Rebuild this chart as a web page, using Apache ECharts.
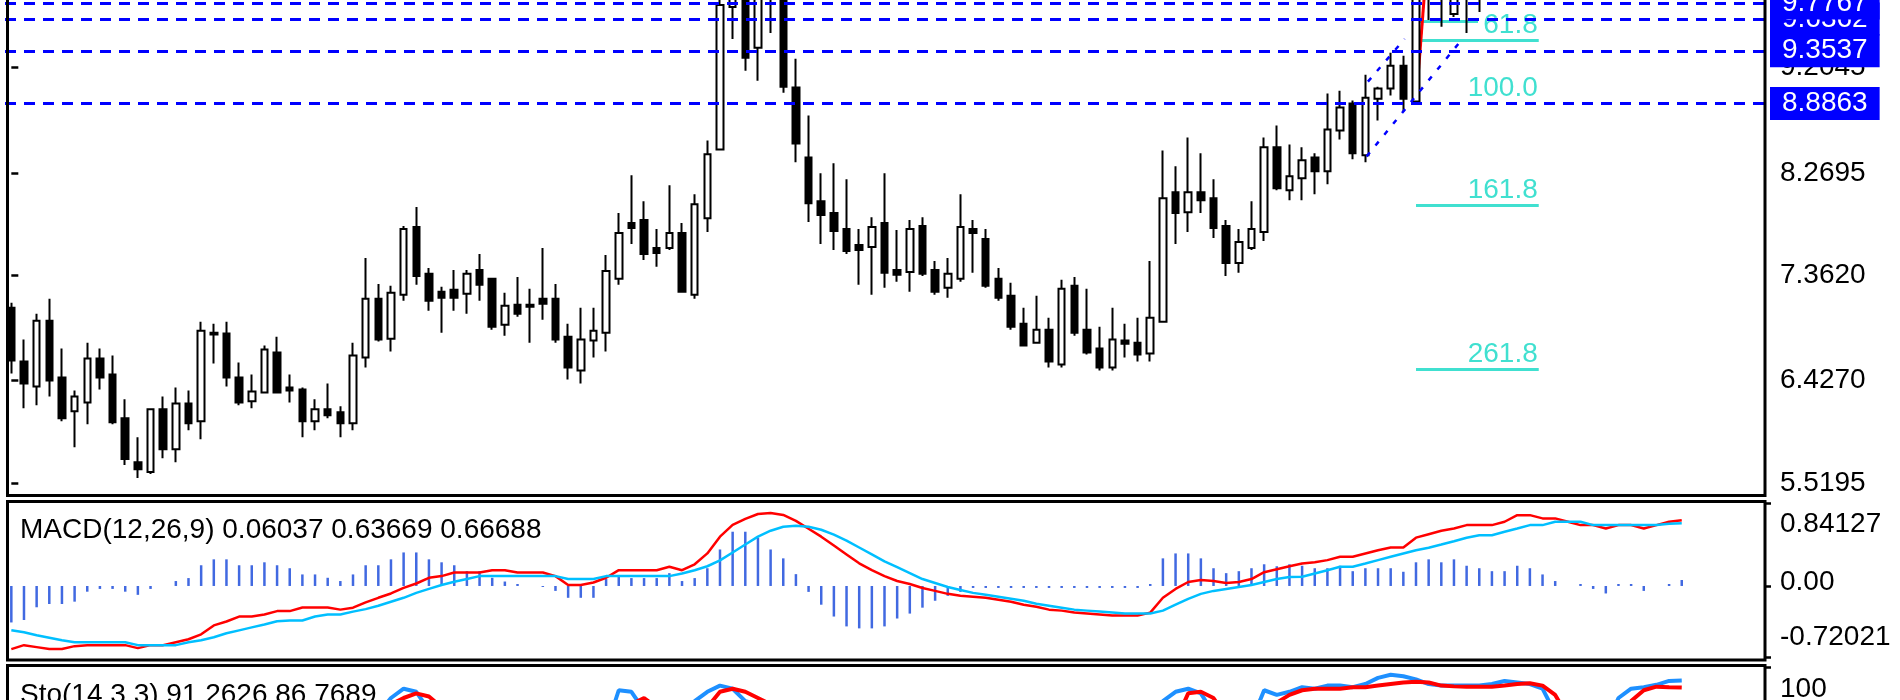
<!DOCTYPE html>
<html>
<head>
<meta charset="utf-8">
<script src="https://cdn.jsdelivr.net/npm/echarts@6/dist/echarts.min.js"></script>
<style>
html,body{margin:0;padding:0;background:#fff;overflow:hidden;width:1900px;height:700px}
#c{width:1900px;height:830px}
</style>
</head>
<body>
<div id="c"></div>
<script>
// ---------------- DATA ----------------
const open = [7.075,6.597,6.376,6.960,6.456,6.156,6.235,6.624,6.482,6.094,
5.705,5.617,6.173,5.820,6.226,6.067,6.853,6.845,6.456,6.244,
6.323,6.677,6.368,6.350,6.067,6.173,6.147,6.050,6.633,7.154,
6.800,7.189,7.790,7.375,7.216,7.233,7.198,7.410,7.331,6.924,
7.101,7.101,7.154,7.154,6.818,6.518,6.783,6.853,7.331,7.825,
7.852,7.604,7.604,7.737,7.189,7.869,8.479,9.742,9.950,9.380,
9.950,9.900,9.027,8.408,8.020,7.914,7.772,7.631,7.613,7.825,
7.410,7.392,7.799,7.410,7.251,7.331,7.772,7.684,7.331,7.180,
6.933,6.765,6.880,6.571,7.269,6.880,6.712,6.544,6.783,6.765,
6.668,6.951,8.099,7.922,8.099,8.046,7.799,7.472,7.604,7.746,
8.497,8.117,8.223,8.408,8.285,8.647,8.885,8.426,8.929,9.018,
9.221,8.903,10.150,9.950,9.680,9.950,9.880];
const close = [6.606,6.403,6.960,6.429,6.094,6.288,6.624,6.456,6.058,5.732,
5.643,6.173,5.820,6.226,6.050,6.871,6.836,6.456,6.235,6.332,
6.703,6.323,6.341,6.067,6.173,6.120,6.050,6.650,7.154,6.792,
7.207,7.772,7.357,7.136,7.163,7.163,7.375,7.278,6.906,7.092,
7.021,7.083,7.110,6.792,6.544,6.792,6.871,7.401,7.737,7.781,
7.551,7.560,7.737,7.216,7.993,8.435,9.760,9.900,9.292,9.920,
9.900,9.035,8.532,8.002,7.896,7.755,7.578,7.587,7.790,7.384,
7.366,7.772,7.375,7.216,7.375,7.790,7.737,7.269,7.163,6.906,
6.739,6.880,6.597,7.242,6.853,6.677,6.544,6.792,6.756,6.659,
6.986,8.046,7.914,8.099,8.028,7.781,7.472,7.657,7.772,8.497,
8.134,8.240,8.382,8.285,8.656,8.850,8.444,8.938,9.018,9.221,
8.929,10.150,9.950,9.900,9.950,9.880,10.050];
const low = [6.491,6.182,6.209,6.288,6.067,5.838,6.041,6.350,6.041,5.679,
5.564,5.599,5.740,5.705,5.988,5.908,6.580,6.376,6.209,6.182,
6.315,6.315,6.235,5.926,5.988,6.094,5.926,5.988,6.544,6.774,
6.686,7.136,7.278,7.048,6.853,7.048,7.021,7.136,6.880,6.827,
6.995,6.765,6.968,6.765,6.438,6.403,6.633,6.686,7.278,7.640,
7.498,7.437,7.587,7.210,7.154,7.746,8.470,9.459,9.177,9.088,
9.512,8.982,8.364,7.834,7.640,7.587,7.551,7.278,7.189,7.251,
7.304,7.216,7.357,7.189,7.163,7.304,7.384,7.251,7.136,6.880,
6.735,6.760,6.544,6.544,6.827,6.659,6.518,6.518,6.633,6.597,
6.597,6.942,7.640,7.746,7.914,7.693,7.357,7.384,7.587,7.666,
8.117,8.028,8.028,8.081,8.170,8.567,8.391,8.364,8.735,8.956,
8.815,8.886,9.627,9.566,9.653,9.512,9.698];
const high = [7.119,6.792,7.021,7.154,6.712,6.341,6.765,6.712,6.650,6.262,
5.926,6.180,6.288,6.368,6.341,6.951,6.933,6.951,6.588,6.482,
6.739,6.818,6.482,6.368,6.262,6.403,6.200,6.765,7.516,7.286,
7.269,7.799,7.967,7.428,7.260,7.410,7.410,7.551,7.340,7.207,
7.348,7.242,7.604,7.286,6.933,7.074,7.074,7.543,7.914,8.249,
8.020,7.772,8.161,7.825,8.081,8.558,9.900,9.980,10.020,10.000,
10.060,9.950,9.283,8.779,8.267,8.355,8.214,7.772,7.878,8.267,
7.763,7.852,7.878,7.490,7.516,8.081,7.852,7.772,7.428,7.295,
7.074,7.180,6.986,7.322,7.348,7.242,6.906,7.074,6.933,6.986,
7.490,8.470,8.329,8.585,8.444,8.214,7.852,7.772,8.020,8.585,
8.691,8.523,8.497,8.444,8.974,9.000,8.912,9.141,9.035,9.336,
9.309,10.200,10.344,10.050,10.000,10.050,10.150];

const macdHist = [-0.37,-0.345,-0.216,-0.183,-0.183,-0.159,-0.058,-0.03,-0.03,-0.058,
-0.09,-0.03,0,0.05,0.08,0.21,0.27,0.27,0.21,0.21,
0.24,0.21,0.18,0.117,0.117,0.083,0.05,0.117,0.21,0.21,
0.27,0.34,0.34,0.27,0.24,0.21,0.15,0.15,0.083,0.045,
0.02,0,-0.01,-0.05,-0.12,-0.12,-0.12,0.07,0.1,0.08,
0.08,0.08,0.13,0.05,0.08,0.18,0.37,0.55,0.55,0.49,
0.37,0.28,0.12,-0.06,-0.19,-0.31,-0.41,-0.43,-0.43,-0.41,
-0.33,-0.28,-0.22,-0.15,-0.10,-0.06,-0.02,-0.02,-0.02,-0.02,
-0.02,-0.02,-0.02,-0.02,-0.02,-0.02,-0.02,-0.02,-0.02,-0.02,
0.02,0.28,0.33,0.33,0.28,0.18,0.13,0.15,0.18,0.22,
0.20,0.22,0.205,0.18,0.18,0.205,0.15,0.18,0.18,0.18,
0.144,0.24,0.27,0.24,0.27,0.205,0.18,0.15,0.15,0.205,
0.18,0.117,0.05,0,0.02,-0.03,-0.076,0.02,0.02,-0.05,
0,0.02,0.06037];
const macdLine = [-0.64,-0.60,-0.62,-0.64,-0.64,-0.61,-0.60,-0.60,-0.60,-0.60,
-0.63,-0.60,-0.60,-0.57,-0.54,-0.49,-0.40,-0.36,-0.31,-0.31,
-0.29,-0.255,-0.255,-0.218,-0.218,-0.218,-0.24,-0.22,-0.167,-0.12,
-0.076,-0.02,0.025,0.083,0.10,0.137,0.137,0.137,0.16,0.16,
0.137,0.137,0.137,0.10,0.01,0.01,0.035,0.083,0.16,0.16,
0.16,0.16,0.195,0.16,0.22,0.33,0.50,0.62,0.68,0.73,
0.74,0.72,0.66,0.58,0.50,0.41,0.32,0.23,0.16,0.10,
0.05,0.02,-0.02,-0.05,-0.08,-0.10,-0.11,-0.12,-0.14,-0.16,
-0.19,-0.21,-0.24,-0.25,-0.27,-0.28,-0.29,-0.30,-0.30,-0.30,
-0.27,-0.12,-0.03,0.04,0.06,0.05,0.03,0.04,0.07,0.14,
0.17,0.20,0.228,0.24,0.262,0.296,0.296,0.33,0.363,0.39,
0.39,0.49,0.525,0.56,0.583,0.617,0.617,0.617,0.651,0.718,
0.718,0.685,0.685,0.651,0.617,0.617,0.583,0.617,0.617,0.583,
0.617,0.651,0.66688];
const macdSignal = [-0.45,-0.47,-0.50,-0.525,-0.55,-0.57,-0.57,-0.57,-0.57,-0.57,
-0.60,-0.60,-0.60,-0.60,-0.57,-0.55,-0.52,-0.48,-0.45,-0.42,
-0.39,-0.357,-0.35,-0.35,-0.31,-0.29,-0.29,-0.26,-0.235,-0.20,
-0.16,-0.12,-0.07,-0.03,0.01,0.043,0.07,0.10,0.10,0.10,
0.10,0.10,0.10,0.10,0.07,0.07,0.07,0.10,0.10,0.10,
0.10,0.10,0.10,0.127,0.16,0.20,0.26,0.34,0.42,0.50,
0.56,0.60,0.61,0.60,0.57,0.52,0.46,0.39,0.32,0.25,
0.19,0.13,0.07,0.03,-0.01,-0.04,-0.07,-0.09,-0.11,-0.13,
-0.15,-0.18,-0.20,-0.22,-0.24,-0.25,-0.26,-0.27,-0.28,-0.28,
-0.28,-0.25,-0.19,-0.13,-0.08,-0.05,-0.03,-0.01,0.01,0.04,
0.07,0.09,0.093,0.127,0.16,0.195,0.195,0.228,0.262,0.296,
0.33,0.363,0.387,0.42,0.454,0.489,0.515,0.515,0.55,0.583,
0.617,0.617,0.651,0.651,0.651,0.617,0.617,0.617,0.617,0.617,
0.617,0.63,0.63669];

const stochMain = [30,20,35,30,15,20,35,35,25,10,
5,20,15,25,25,55,60,50,40,40,
55,45,40,30,35,40,30,60,78,70,
80,86,84,72,65,65,70,62,40,45,
40,40,40,25,10,20,30,60,85,84,
72,65,75,55,78,84,88,86,78,76,
74,60,40,25,18,15,12,10,15,15,
12,20,15,10,15,30,30,20,15,10,
5,10,5,30,25,15,10,20,20,15,
30,78,84,86,83,70,50,55,65,85,
82,84,87,86,88,88,87,89,93,95,
94,92,89,88,88,88,88,89,91,90,
89,86,70,50,40,45,62,80,86,87,
88.5,91,91.2626];
const stochSignal = [35,28,28,28,27,22,23,30,32,23,
13,12,13,20,22,35,47,55,50,43,
45,47,47,38,35,35,35,43,57,71,
76,80,83,81,74,68,67,66,57,49,
42,42,40,35,25,18,20,37,58,76,
80,74,71,65,70,74,84,86,84,80,
76,70,59,42,28,19,15,12,12,13,
14,16,16,15,13,18,25,27,22,15,
10,8,7,15,20,23,17,15,17,18,
22,42,65,83,84,80,68,58,57,68,
77,82,85,86,86,86,87,87,88,89,
90,90.5,90,88,87.5,87.3,87.3,87.3,88,89,
89.5,88,82,68,53,45,48,62,78,85,
87.3,87,86.7689];

const priceTicks = [5.5195, 6.4270, 7.3620, 8.2695, 9.2045];
const macdTicks = [-0.72021, 0, 0.84127];
const stochTicks = [100];
const hLines = [9.6362, 9.7767, 9.3537, 8.8863];
const fibAnchorLow = 8.8863, fibAnchorHigh = 10.3437;
const fibLevels = [61.8, 100.0, 161.8, 261.8];
const fibLevelNames = ['61.8', '100.0', '161.8', '261.8'];
const fibBars = [111, 120.7];
const shortSegment = [[111, 9.615], [115.9, 9.615]];
const channelLines = [[[107.1, 8.417], [114.6, 9.450]], [[107.2, 9.080], [110.1, 9.459]]];
const fibDiagonal = [[111, 8.8863], [112, 10.3437]];
const macdTitle = 'MACD(12,26,9) 0.06037 0.63669 0.66688';
const stochTitle = 'Sto(14,3,3) 91.2626 86.7689';

// ---------------- CHART ----------------
const FONT = '"Liberation Sans", Arial, sans-serif';
const nSlots = 139;
const slotNames = Array.from({length: nSlots}, (_, i) => String(i + 1));
const ohlc = open.map((o, i) => [o, close[i], low[i], high[i]]);
const fibPrice = lv => fibAnchorHigh - (fibAnchorHigh - fibAnchorLow) * lv / 100;

const chart = echarts.init(document.getElementById('c'));
const axisTickStyle = {show: true, inside: false, length: 7, lineStyle: {color: '#000', width: 2.5}};
const labelBase = {color: '#000', fontSize: 28, fontFamily: FONT, margin: 16};

chart.setOption({
  animation: false,
  backgroundColor: '#fff',
  grid: [
    {left: 5, top: -2, width: 1759, height: 497},
    {left: 5, top: 503, width: 1759, height: 154},
    {left: 5, top: 667, width: 1759, height: 155}
  ],
  xAxis: [
    {type: 'category', gridIndex: 0, data: slotNames, show: false},
    {type: 'value', gridIndex: 0, min: -0.5, max: nSlots - 0.5, show: false},
    {type: 'category', gridIndex: 1, data: slotNames, show: false},
    {type: 'category', gridIndex: 2, data: slotNames, show: false}
  ],
  yAxis: [
    {type: 'value', gridIndex: 0, position: 'right', min: 5.4135, max: 9.804,
      splitLine: {show: false}, axisLine: {show: false},
      axisTick: Object.assign({customValues: priceTicks}, axisTickStyle),
      axisLabel: Object.assign({customValues: priceTicks, formatter: v => v.toFixed(4)}, labelBase)},
    {type: 'value', gridIndex: 1, position: 'right', min: -0.72021, max: 0.84127,
      splitLine: {show: false}, axisLine: {show: false},
      axisTick: Object.assign({customValues: macdTicks}, axisTickStyle),
      axisLabel: Object.assign({customValues: macdTicks,
        formatter: v => v > 0.5 ? '{t|' + v.toFixed(5) + '}' : (v < -0.5 ? '{b|' + v.toFixed(5) + '}' : '{m|0.00}'),
        rich: {
          t: {fontSize: 28, fontFamily: FONT, color: '#000', padding: [42, 0, 0, 0]},
          b: {fontSize: 28, fontFamily: FONT, color: '#000', padding: [0, 0, 40, 0]},
          m: {fontSize: 28, fontFamily: FONT, color: '#000', padding: [0, 0, 8, 0]}
        }}, labelBase)},
    {type: 'value', gridIndex: 2, position: 'right', min: 0, max: 100,
      splitLine: {show: false}, axisLine: {show: false},
      axisTick: Object.assign({customValues: stochTicks}, axisTickStyle),
      axisLabel: Object.assign({customValues: stochTicks,
        formatter: v => '{t|' + v + '}',
        rich: {t: {fontSize: 28, fontFamily: FONT, color: '#000', padding: [44, 0, 0, 0]}}}, labelBase)}
  ],
  series: [
    {
      name: 'fib', type: 'lines', coordinateSystem: 'cartesian2d', xAxisIndex: 1, yAxisIndex: 0, z: 1,
      lineStyle: {color: '#40e0d0', width: 3, opacity: 1, curveness: 0},
      label: {show: true, position: 'insideEndTop', distance: 1, color: '#40e0d0', fontSize: 28, fontFamily: FONT, formatter: '{b}'},
      data: fibLevels.map((lv, k) => ({
        name: fibLevelNames[k],
        coords: [[fibBars[0], fibPrice(lv)], [fibBars[1], fibPrice(lv)]],
        lineStyle: lv === 100 ? {color: 'rgba(255,255,255,0)'} : undefined
      })).concat([
        {name: '', coords: shortSegment, label: {show: false}},
        {name: '', coords: fibDiagonal, label: {show: false}, lineStyle: {color: '#ff0000', width: 3}}
      ])
    },
    {
      name: 'price', type: 'candlestick', xAxisIndex: 0, yAxisIndex: 0, z: 3, clip: true,
      data: ohlc, barWidth: 7,
      itemStyle: {color: '#ffffff', color0: '#000000', borderColor: '#000000', borderColor0: '#000000', borderWidth: 2},
      markLine: {
        symbol: ['none', 'none'], silent: true, animation: false, precision: 4,
        lineStyle: {color: '#0000ff', width: 3, type: [11, 8]},
        label: {show: true, position: 'end', distance: 6, backgroundColor: '#0000ff', color: '#ffffff',
          fontSize: 28, fontFamily: FONT, padding: [3, 12, 2, 12], formatter: p => Number(p.value).toFixed(4)},
        data: hLines.map(v => ({yAxis: v}))
      }
    },
    {
      name: 'channel', type: 'lines', coordinateSystem: 'cartesian2d', xAxisIndex: 1, yAxisIndex: 0, z: 4,
      lineStyle: {color: '#0000ff', width: 2.5, type: [5, 9], opacity: 1},
      data: channelLines.map(c => ({coords: c}))
    },
    {name: 'hist', type: 'bar', xAxisIndex: 2, yAxisIndex: 1, data: macdHist, barWidth: 2.5,
      itemStyle: {color: '#4169e1'}},
    {name: 'macd', type: 'line', xAxisIndex: 2, yAxisIndex: 1, data: macdLine, symbol: 'none',
      lineStyle: {color: '#ff0000', width: 2.5}},
    {name: 'signal', type: 'line', xAxisIndex: 2, yAxisIndex: 1, data: macdSignal, symbol: 'none',
      lineStyle: {color: '#00bfff', width: 2.5}},
    {name: 'stoch', type: 'line', xAxisIndex: 3, yAxisIndex: 2, data: stochMain, symbol: 'none',
      lineStyle: {color: '#1e90ff', width: 4}},
    {name: 'stochSignal', type: 'line', xAxisIndex: 3, yAxisIndex: 2, data: stochSignal, symbol: 'none',
      lineStyle: {color: '#ff0000', width: 4}}
  ],
  graphic: [
    {type: 'rect', z: 100, silent: true, shape: {x: 7.5, y: -10, width: 1757.5, height: 505.5},
      style: {fill: null, stroke: '#000', lineWidth: 3}},
    {type: 'rect', z: 100, silent: true, shape: {x: 7.5, y: 501.5, width: 1757.5, height: 158.5},
      style: {fill: null, stroke: '#000', lineWidth: 3}},
    {type: 'rect', z: 100, silent: true, shape: {x: 7.5, y: 665.5, width: 1757.5, height: 160},
      style: {fill: null, stroke: '#000', lineWidth: 3}},
    {type: 'text', z: 100, silent: true, x: 20, y: 530.5,
      style: {text: macdTitle, fill: '#000', font: '28px ' + FONT, verticalAlign: 'middle'}},
    {type: 'text', z: 100, silent: true, x: 20, y: 695,
      style: {text: stochTitle, fill: '#000', font: '28px ' + FONT, verticalAlign: 'middle'}}
  ]
});
</script>
</body>
</html>
